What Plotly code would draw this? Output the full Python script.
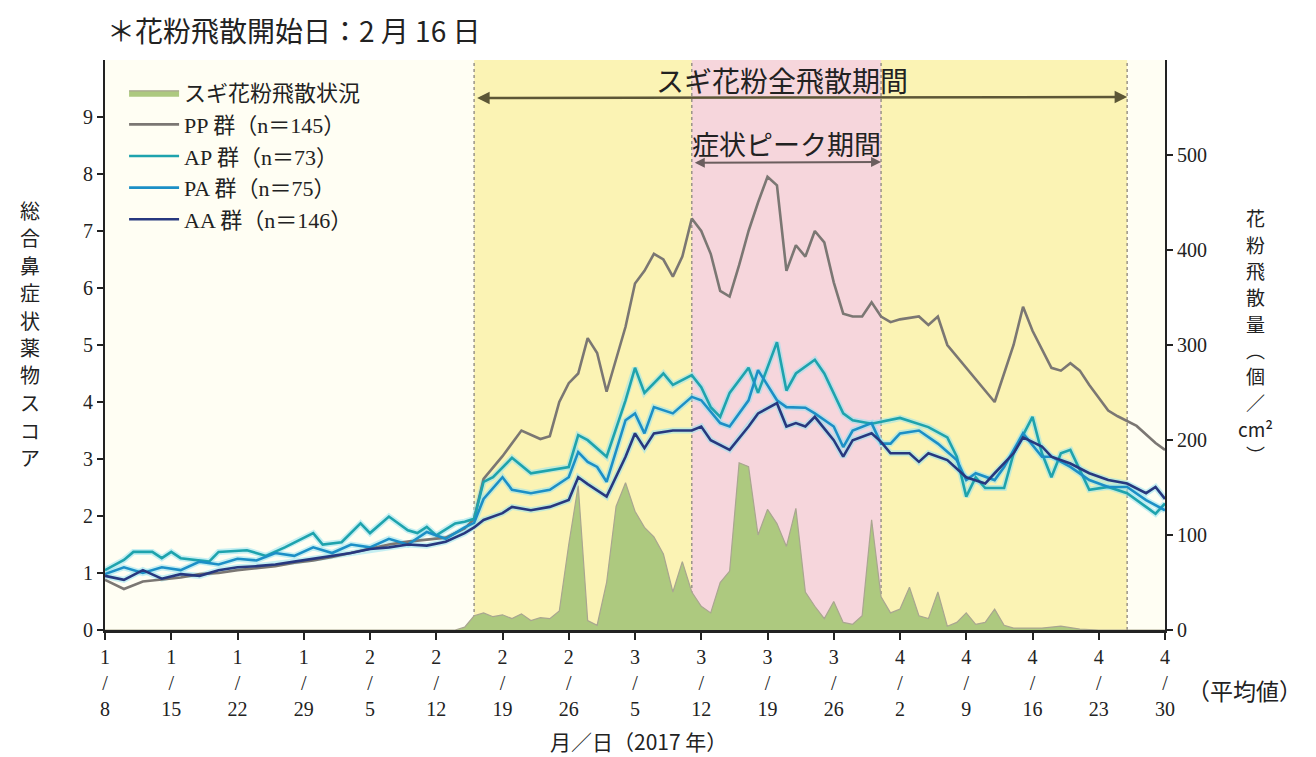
import plotly.graph_objects as go
from datetime import datetime, timedelta

YEAR = 2017

def md(lst):
    return [datetime.strptime(f"{YEAR}/{s}", "%Y/%m/%d") for s in lst]

# ---------------- data ----------------
pollen_dates = ["1/8", "2/14", "2/15", "2/16", "2/17", "2/18", "2/19", "2/20", "2/21", "2/22", "2/23", "2/24",
                "2/25", "2/26", "2/27", "2/28", "3/1", "3/2", "3/3", "3/4", "3/5", "3/6", "3/7", "3/8",
                "3/9", "3/10", "3/11", "3/12", "3/13", "3/14", "3/15", "3/16", "3/17", "3/18", "3/19",
                "3/20", "3/21", "3/22", "3/23", "3/24", "3/25", "3/26", "3/27", "3/28", "3/29", "3/30",
                "3/31", "4/1", "4/2", "4/3", "4/4", "4/5", "4/6", "4/7", "4/8", "4/9", "4/10", "4/11",
                "4/12", "4/13", "4/14", "4/15", "4/17", "4/19", "4/21", "4/23", "4/30"]
pollen_vals = [0, 0, 3, 15, 18, 14, 16, 12, 17, 10, 13, 12,
               20, 90, 152, 10, 5, 50, 130, 155, 125, 108, 98, 80,
               40, 72, 40, 25, 18, 50, 62, 176, 172, 100, 127,
               112, 88, 128, 40, 25, 12, 30, 8, 6, 15, 116,
               35, 18, 22, 45, 15, 12, 40, 4, 8, 18, 6, 8,
               22, 5, 2, 2, 2, 4, 1, 0, 0]

pp_dates = ["1/8", "1/10", "1/12", "1/14", "1/16", "1/18", "1/20", "1/22", "1/24", "1/26", "1/28", "1/30",
            "2/1", "2/3", "2/5", "2/7", "2/9", "2/11", "2/13", "2/15", "2/16", "2/17", "2/19", "2/21",
            "2/23", "2/24", "2/25", "2/26", "2/27", "2/28", "3/1", "3/2", "3/4", "3/5", "3/6", "3/7",
            "3/8", "3/9", "3/10", "3/11", "3/12", "3/13", "3/14", "3/15", "3/16", "3/17", "3/18", "3/19",
            "3/20", "3/21", "3/22", "3/23", "3/24", "3/25", "3/26", "3/27", "3/28", "3/29", "3/30", "3/31",
            "4/1", "4/2", "4/4", "4/5", "4/6", "4/7", "4/9", "4/11", "4/12", "4/14", "4/15", "4/16",
            "4/18", "4/19", "4/20", "4/21", "4/22", "4/24", "4/25", "4/27", "4/29", "4/30"]
pp_vals = [0.88, 0.72, 0.85, 0.88, 0.92, 0.98, 1.0, 1.05, 1.08, 1.12, 1.18, 1.22,
           1.28, 1.35, 1.42, 1.5, 1.55, 1.58, 1.62, 1.78, 1.95, 2.65, 3.05, 3.5,
           3.35, 3.4, 4.0, 4.33, 4.5, 5.12, 4.86, 4.18, 5.32, 6.08, 6.3, 6.6,
           6.5, 6.2, 6.55, 7.22, 7.0, 6.6, 5.95, 5.85, 6.4, 7.0, 7.5, 7.95,
           7.8, 6.3, 6.75, 6.55, 7.0, 6.8, 6.1, 5.55, 5.5, 5.5, 5.75, 5.5,
           5.4, 5.45, 5.5, 5.35, 5.5, 5.0, 4.6, 4.2, 4.0, 5.0, 5.67, 5.25,
           4.6, 4.55, 4.68, 4.55, 4.3, 3.85, 3.75, 3.58, 3.28, 3.16]

ap_dates = ["1/8", "1/10", "1/11", "1/13", "1/14", "1/15", "1/16", "1/19", "1/20", "1/23", "1/25", "1/27",
            "1/30", "1/31", "2/2", "2/4", "2/5", "2/7", "2/9", "2/10", "2/11", "2/12", "2/14", "2/15",
            "2/16", "2/17", "2/18", "2/20", "2/22", "2/24", "2/26", "2/27", "2/28", "3/2", "3/4", "3/5",
            "3/6", "3/8", "3/9", "3/11", "3/12", "3/13", "3/14", "3/15", "3/17", "3/18", "3/20", "3/21",
            "3/22", "3/24", "3/25", "3/27", "3/28", "3/30", "4/1", "4/2", "4/5", "4/7", "4/8", "4/9",
            "4/10", "4/11", "4/13", "4/14", "4/16", "4/17", "4/18", "4/19", "4/20", "4/22", "4/24", "4/26",
            "4/28", "4/29", "4/30"]
ap_vals = [1.05, 1.23, 1.37, 1.37, 1.26, 1.37, 1.26, 1.2, 1.37, 1.4, 1.3, 1.45,
           1.7, 1.5, 1.54, 1.87, 1.7, 1.99, 1.75, 1.7, 1.81, 1.66, 1.87, 1.9,
           1.95, 2.6, 2.68, 3.02, 2.75, 2.81, 2.86, 3.42, 3.33, 3.04, 4.03, 4.6,
           4.16, 4.5, 4.3, 4.47, 4.26, 3.91, 3.74, 4.16, 4.6, 4.16, 5.05, 4.2,
           4.5, 4.74, 4.5, 3.8, 3.68, 3.62, 3.68, 3.72, 3.56, 3.38, 3.04, 2.34,
           2.68, 2.49, 2.49, 3.1, 3.74, 3.1, 2.68, 3.1, 3.16, 2.46, 2.51, 2.4,
           2.16, 2.04, 2.22]

pa_dates = ["1/8", "1/10", "1/12", "1/14", "1/16", "1/18", "1/20", "1/22", "1/24", "1/26", "1/28", "1/30",
            "2/1", "2/3", "2/5", "2/7", "2/9", "2/11", "2/13", "2/15", "2/16", "2/17", "2/19", "2/20",
            "2/22", "2/24", "2/26", "2/27", "2/28", "3/1", "3/2", "3/4", "3/5", "3/6", "3/7", "3/9",
            "3/11", "3/12", "3/14", "3/15", "3/17", "3/18", "3/20", "3/21", "3/23", "3/24", "3/26", "3/27",
            "3/28", "3/30", "3/31", "4/1", "4/2", "4/4", "4/6", "4/8", "4/9", "4/10", "4/12", "4/13",
            "4/15", "4/17", "4/18", "4/20", "4/22", "4/24", "4/26", "4/28", "4/30"]
pa_vals = [0.98, 1.1, 1.0, 1.1, 1.05, 1.2, 1.15, 1.25, 1.22, 1.35, 1.3, 1.45,
           1.35, 1.5, 1.45, 1.6, 1.5, 1.72, 1.6, 1.8, 1.88, 2.3, 2.68, 2.46,
           2.4, 2.46, 2.68, 3.12, 2.95, 2.86, 2.6, 3.68, 3.8, 3.45, 3.91, 3.8,
           4.09, 4.03, 3.63, 3.57, 4.03, 4.56, 4.03, 3.91, 3.9, 3.8, 3.57, 3.21,
           3.5, 3.63, 3.27, 3.27, 3.45, 3.5, 3.27, 2.98, 2.63, 2.75, 2.63, 2.86,
           3.45, 3.04, 3.04, 2.86, 2.63, 2.51, 2.51, 2.28, 2.1]

aa_dates = ["1/8", "1/10", "1/12", "1/14", "1/16", "1/18", "1/20", "1/22", "1/24", "1/26", "1/28", "1/30",
            "2/1", "2/3", "2/5", "2/7", "2/9", "2/11", "2/13", "2/15", "2/16", "2/17", "2/19", "2/20",
            "2/22", "2/24", "2/26", "2/27", "2/28", "3/2", "3/4", "3/5", "3/6", "3/7", "3/9", "3/11",
            "3/12", "3/13", "3/15", "3/17", "3/18", "3/20", "3/21", "3/22", "3/23", "3/24", "3/26", "3/27",
            "3/28", "3/30", "3/31", "4/1", "4/3", "4/4", "4/5", "4/7", "4/9", "4/11", "4/12", "4/14",
            "4/15", "4/17", "4/18", "4/20", "4/22", "4/24", "4/26", "4/28", "4/29", "4/30"]
aa_vals = [0.95, 0.88, 1.05, 0.9, 0.98, 0.95, 1.05, 1.1, 1.12, 1.15, 1.2, 1.25,
           1.3, 1.35, 1.42, 1.45, 1.5, 1.48, 1.55, 1.7, 1.8, 1.93, 2.05, 2.16,
           2.1, 2.16, 2.28, 2.68, 2.56, 2.34, 3.04, 3.45, 3.19, 3.45, 3.5, 3.5,
           3.57, 3.33, 3.16, 3.57, 3.8, 3.98, 3.57, 3.63, 3.57, 3.74, 3.33, 3.04,
           3.33, 3.45, 3.3, 3.1, 3.1, 2.95, 3.1, 2.98, 2.68, 2.57, 2.75, 3.1,
           3.38, 3.22, 3.04, 2.92, 2.75, 2.63, 2.57, 2.4, 2.51, 2.3]

series_names = ["PP 群（n＝145）", "AP 群（n＝73）", "PA 群（n＝75）", "AA 群（n＝146）"]
series_colors = ["#7b7773", "#1ea3ad", "#1c8fc6", "#27387f"]
halo_color = "rgba(150,225,240,0.55)"

tick_dates = ["1/8", "1/15", "1/22", "1/29", "2/5", "2/12", "2/19", "2/26", "3/5", "3/12",
              "3/19", "3/26", "4/2", "4/9", "4/16", "4/23", "4/30"]
score_ticks = [0, 1, 2, 3, 4, 5, 6, 7, 8, 9]
pollen_ticks = [0, 100, 200, 300, 400, 500]

season = ["2/16", "4/26"]      # スギ花粉全飛散期間
peak = ["3/11", "3/31"]        # 症状ピーク期間
x_range = ["1/8", "4/30"]

left_title_chars = list("総合鼻症状薬物スコア")
right_title_chars = ["花", "粉", "飛", "散", "量", "︵", "個", "／", "cm²", "︶"]

# ---------------- figure ----------------
SERIF = "Liberation Serif, Noto Sans CJK JP, serif"
JP = "Noto Sans CJK JP, sans-serif"
TXT = "#222"
PLOT_TOP, PLOT_BOTTOM = 60, 630          # pixel rows of the plot area
PLOT_H = PLOT_BOTTOM - PLOT_TOP

def py(px):
    """pixel row -> paper y"""
    return (PLOT_BOTTOM - px) / PLOT_H

fig = go.Figure()

fig.add_trace(go.Scatter(
    x=md(pollen_dates), y=pollen_vals, name="スギ花粉飛散状況", yaxis="y",
    mode="lines", fill="tozeroy", fillcolor="#adc97f",
    line=dict(color="#a9a690", width=1.2)))

all_series = [(pp_dates, pp_vals), (ap_dates, ap_vals), (pa_dates, pa_vals), (aa_dates, aa_vals)]

for (dts, vals) in all_series[1:]:
    fig.add_trace(go.Scatter(x=md(dts), y=vals, yaxis="y2", mode="lines", showlegend=False,
                             hoverinfo="skip", line=dict(color=halo_color, width=6)))

for (dts, vals), name, col in zip(all_series, series_names, series_colors):
    fig.add_trace(go.Scatter(x=md(dts), y=vals, name=name, yaxis="y2", mode="lines",
                             line=dict(color=col, width=2.6)))

s0, s1 = md(season)
p0, p1 = md(peak)
shapes = [
    dict(type="rect", xref="x", yref="paper", x0=s0, x1=s1, y0=0, y1=1,
         fillcolor="#fbf3b4", line=dict(width=0), layer="below"),
    dict(type="rect", xref="x", yref="paper", x0=p0, x1=p1, y0=0, y1=1,
         fillcolor="#f6d6dc", line=dict(width=0), layer="below"),
]
for d in (s0, p0, p1, s1):
    shapes.append(dict(type="line", xref="x", yref="paper", x0=d, x1=d, y0=0, y1=1,
                       line=dict(color="#9a9488", width=1.5, dash="dot"), layer="below"))

tv = md(tick_dates)
tt = [f"{d.month}<br>/<br>{d.day}" for d in tv]
xr = md(x_range)

mid_season = s0 + (s1 - s0) / 2 - timedelta(days=2)
mid_peak = p0 + (p1 - p0) / 2

annotations = [
    dict(text="＊花粉飛散開始日：2 月 16 日", xref="paper", yref="paper", x=0.0, y=py(30),
         xanchor="left", yanchor="middle", showarrow=False, font=dict(family=JP, size=28, color=TXT)),
    dict(text=" ", x=s1, y=py(97), ax=s0, ay=py(97), xref="x", yref="paper", axref="x", ayref="pixel",
         showarrow=True, arrowhead=2, startarrowhead=2, arrowside="end+start", arrowsize=1,
         arrowwidth=2.5, arrowcolor="#5c5636", standoff=0, startstandoff=0),
    dict(text="スギ花粉全飛散期間", x=mid_season, y=py(80), xref="x", yref="paper", showarrow=False,
         xanchor="center", yanchor="middle", font=dict(family=JP, size=28, color=TXT)),
    dict(text=" ", x=p1, y=py(162), ax=p0, ay=py(162), xref="x", yref="paper", axref="x", ayref="pixel",
         showarrow=True, arrowhead=2, startarrowhead=2, arrowside="end+start", arrowsize=1,
         arrowwidth=2, arrowcolor="#6b5e5e", standoff=0, startstandoff=0),
    dict(text="症状ピーク期間", x=mid_peak, y=py(143), xref="x", yref="paper", showarrow=False,
         xanchor="center", yanchor="middle", font=dict(family=JP, size=27, color=TXT)),
    dict(text="月／日（2017 年）", xref="paper", yref="paper", x=0.503, y=py(741),
         xanchor="center", yanchor="middle", showarrow=False, font=dict(family=JP, size=21, color=TXT)),
    dict(text="（平均値）", xref="paper", yref="paper", x=(1244 - 105) / 1060, y=py(690),
         xanchor="center", yanchor="middle", showarrow=False, font=dict(family=JP, size=23, color=TXT)),
]

for i, ch in enumerate(left_title_chars):
    annotations.append(dict(text=ch, xref="paper", yref="paper", x=(30 - 105) / 1060,
                            y=py(210 + i * 27.5), xanchor="center", yanchor="middle",
                            showarrow=False, borderpad=0, font=dict(family=JP, size=20, color=TXT)))
for i, ch in enumerate(right_title_chars):
    annotations.append(dict(text=ch, xref="paper", yref="paper", x=(1255 - 105) / 1060,
                            y=py(218 + i * 26.3), xanchor="center", yanchor="middle",
                            showarrow=False, borderpad=0, font=dict(family=JP, size=19, color=TXT)))

fig.update_layout(
    width=1316, height=757,
    margin=dict(l=105, r=151, t=PLOT_TOP, b=757 - PLOT_BOTTOM),
    paper_bgcolor="white", plot_bgcolor="#fffef3",
    font=dict(family=SERIF, color=TXT),
    showlegend=True,
    legend=dict(x=0.018, y=py(72), xanchor="left", yanchor="top", bgcolor="rgba(0,0,0,0)",
                font=dict(family=SERIF, size=22, color=TXT), tracegroupgap=0, itemwidth=50),
    xaxis=dict(type="date", range=[xr[0], xr[1]], tickvals=tv, ticktext=tt,
               ticks="outside", ticklen=7, tickwidth=1.5, tickcolor=TXT,
               showline=True, linecolor=TXT, linewidth=2.5, showgrid=False, zeroline=False,
               tickfont=dict(family=SERIF, size=20, color=TXT)),
    yaxis=dict(side="right", range=[0, 600], tickvals=pollen_ticks, ticks="outside",
               ticklen=6, tickwidth=1.5, tickcolor=TXT, showline=True, linecolor=TXT,
               linewidth=2, showgrid=False, zeroline=False, anchor="x",
               tickfont=dict(family=SERIF, size=20, color=TXT)),
    yaxis2=dict(side="left", overlaying="y", range=[0, 10], tickvals=score_ticks, ticks="outside",
                ticklen=6, tickwidth=1.5, tickcolor=TXT, showline=True, linecolor=TXT,
                linewidth=2, showgrid=False, zeroline=False, anchor="x",
                tickfont=dict(family=SERIF, size=20, color=TXT)),
    shapes=shapes,
    annotations=annotations,
)

fig.write_html("out.html", config={"displayModeBar": False},
               post_script="document.body.style.margin='0';document.body.style.overflow='hidden';")
